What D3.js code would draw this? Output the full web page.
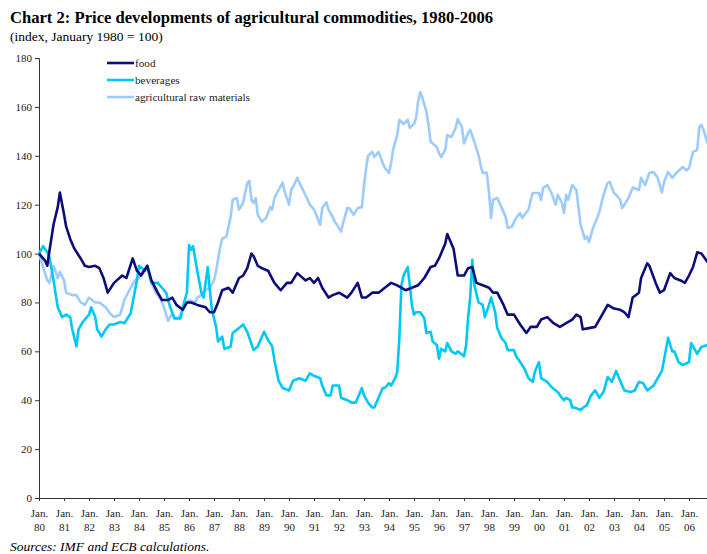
<!DOCTYPE html>
<html>
<head>
<meta charset="utf-8">
<script src="https://cdn.jsdelivr.net/npm/d3@7"></script>
<style>
  body { margin: 0; background: #fff; }
  svg { display: block; font-family: "Liberation Serif", "Times New Roman", serif; }
</style>
</head>
<body>
<script>
// values (index, Jan 1980 = 100)
const foodMonths = ["1980-01","1980-04","1980-05","1980-06","1980-08","1980-10","1980-11","1981-01","1981-02","1981-04","1981-06","1981-09","1981-11",
  "1982-01","1982-04","1982-06","1982-08","1982-10","1983-01","1983-05","1983-07","1983-10","1983-12","1984-02","1984-05","1984-07","1984-10","1984-12",
  "1985-03","1985-05","1985-07","1985-10","1985-12","1986-02","1986-05","1986-09","1986-11","1987-01","1987-03","1987-05","1987-08","1987-10",
  "1988-01","1988-03","1988-05","1988-07","1988-08","1988-10","1988-12","1989-03","1989-06","1989-09","1989-12","1990-02","1990-05","1990-09","1990-11",
  "1991-01","1991-03","1991-05","1991-08","1991-10","1992-01","1992-05","1992-07","1992-10","1992-12","1993-02","1993-05","1993-08","1993-11",
  "1994-02","1994-05","1994-09","1994-12","1995-03","1995-06","1995-09","1995-11","1996-01","1996-04","1996-05","1996-08","1996-10",
  "1997-01","1997-03","1997-05","1997-07","1997-10","1998-01","1998-03","1998-05","1998-08","1998-10","1999-01","1999-04","1999-07","1999-09","1999-12",
  "2000-02","2000-05","2000-08","2000-11","2001-02","2001-05","2001-07","2001-09","2001-10","2002-01","2002-04","2002-06","2002-09","2002-10",
  "2003-01","2003-04","2003-06","2003-08","2003-10","2004-01","2004-02","2004-05","2004-06","2004-09","2004-11","2005-01","2005-04","2005-06","2005-09","2005-11",
  "2006-01","2006-03","2006-05","2006-07","2006-10"];
const foodValues = [100,97,95,101,112,119,125,116,111,106,102,98,95,
  94.5,95,94,90,84,88,91,90,98,93,91,95,89,84,81,
  81,82,79,77,80,80,79,78,76,76,80,85,86,84,
  90,91,94,100,99,95,94,93,88,85,88,88,92,89,90,
  88,90,86,82,83,84,82,84,88,82,82,84,84,86,
  88,87,85,86,87,90,94.5,95,98,104,108,102,91,
  91,94,94.5,88,87,86,84,84,79,75,75,71,67.5,70,70,
  73,74,71.5,70,71.5,73,75,74,69,69.5,70,73,77.5,79,
  77.5,77,76,74,82,84,90,96,95,88,84,85,92,90,89,88,
  91,94.5,100.5,100,96.5];

const bevMonths = ["1980-01","1980-03","1980-05","1980-06","1980-08","1980-10","1980-12","1981-02","1981-04","1981-05","1981-07","1981-08","1981-10",
  "1982-01","1982-02","1982-04","1982-05","1982-07","1982-09","1982-11","1983-01","1983-04","1983-06","1983-09","1983-10","1983-12",
  "1984-01","1984-04","1984-05","1984-07","1984-10","1984-12","1985-02","1985-04","1985-06","1985-09","1985-10","1985-12",
  "1986-01","1986-02","1986-03","1986-05","1986-07","1986-08","1986-10","1986-11","1986-12","1987-02","1987-03","1987-05","1987-06","1987-09","1987-10",
  "1988-01","1988-03","1988-05","1988-08","1988-10","1989-01","1989-03","1989-05","1989-06","1989-08","1989-10","1990-01","1990-03","1990-06","1990-09","1990-11",
  "1991-01","1991-04","1991-05","1991-07","1991-09","1991-10","1992-01","1992-02","1992-05","1992-07","1992-09","1992-10","1992-12",
  "1993-01","1993-03","1993-05","1993-06","1993-08","1993-10","1993-11","1994-01","1994-02","1994-04","1994-05","1994-06","1994-07","1994-08","1994-10","1994-11","1994-12",
  "1995-01","1995-02","1995-04","1995-06","1995-07","1995-09","1995-10","1995-12","1996-01","1996-02","1996-04","1996-05","1996-07","1996-09","1996-10",
  "1997-01","1997-02","1997-03","1997-04","1997-05","1997-06","1997-08","1997-10","1997-11","1998-01","1998-02","1998-04","1998-05","1998-07","1998-09","1998-10",
  "1999-01","1999-02","1999-04","1999-06","1999-08","1999-10","1999-11","2000-01","2000-02","2000-05","2000-07","2000-10","2000-11",
  "2001-01","2001-02","2001-04","2001-05","2001-06","2001-09","2001-10","2001-12","2002-02","2002-04","2002-06","2002-08","2002-10","2002-12",
  "2003-02","2003-04","2003-06","2003-09","2003-11","2004-01","2004-03","2004-05","2004-08","2004-10","2004-12",
  "2005-01","2005-03","2005-05","2005-06","2005-08","2005-10","2006-01","2006-02","2006-04","2006-05","2006-07","2006-10"];
const bevValues = [100,103,100.5,98.5,89,78,74,75,74,69,62,69,72,
  75,78,74,69,66,69,71,71,72,71.5,75.5,80,89,
  95,93,95,88,88,86,84,78,73.5,73.5,78,84,
  103.5,101.5,103,93,84,82,94.5,85,77,70,64,66,61,62,67.5,
  69.5,71,68,60.5,62,68,64.6,62,56.5,48,45,44,48,49,48,51,
  50,49,46,42,42,46,46,41,40,39,39,41,45,
  42,39,37,37,41,45,45,47,46,49,51.5,65.5,87,91,94.5,87,79,
  75,76,76,73.5,67.5,68,64,62.6,57,61,60,63.4,60,59,60,
  58,62.6,73.6,82,97.4,87,80,79,74,79,82,76,69.5,65.5,63.4,60.5,
  60.5,58,55.6,53,49,47.5,51.5,55.6,49,47.5,45.4,43.4,42,
  40,41,40,37,37,36,36.8,38,42,44,41,43.4,49.5,47.5,
  52,48,44,43.4,44,47.5,47,44,46,49,52,
  56.5,65.5,60,60,55.6,54.4,55.6,63.4,60.5,59,61.8,62.6];

const rawMonths = ["1980-01","1980-03","1980-05","1980-06","1980-08","1980-10","1980-11","1981-01","1981-02","1981-05","1981-07","1981-09","1981-11",
  "1982-01","1982-04","1982-06","1982-09","1982-11","1983-01","1983-04","1983-06","1983-09","1983-11","1984-01","1984-03","1984-05","1984-07","1984-09","1984-11",
  "1985-01","1985-03","1985-05","1985-06","1985-08","1985-10","1985-11","1986-01","1986-04","1986-05","1986-07","1986-09","1986-11",
  "1987-01","1987-02","1987-04","1987-05","1987-07","1987-09","1987-10","1987-12","1988-01","1988-03","1988-05","1988-06","1988-07","1988-08","1988-09","1988-10","1988-12",
  "1989-02","1989-04","1989-05","1989-06","1989-08","1989-10","1989-11","1990-01","1990-02","1990-04","1990-05","1990-06","1990-08","1990-10","1990-11",
  "1991-01","1991-02","1991-04","1991-05","1991-07","1991-08","1991-10","1991-11","1992-01","1992-02","1992-03","1992-05","1992-06","1992-08","1992-10","1992-12",
  "1993-01","1993-02","1993-03","1993-05","1993-06","1993-08","1993-10","1993-11","1994-01","1994-02","1994-03","1994-05","1994-06","1994-08","1994-10","1994-11",
  "1995-01","1995-02","1995-03","1995-04","1995-05","1995-07","1995-08","1995-09","1995-10","1995-12","1996-01","1996-02","1996-04","1996-05","1996-07","1996-09","1996-10","1996-12",
  "1997-01","1997-03","1997-04","1997-06","1997-08","1997-09","1997-10","1997-12","1998-01","1998-02","1998-03","1998-05","1998-07","1998-09","1998-10","1998-12",
  "1999-02","1999-04","1999-05","1999-08","1999-10","2000-01","2000-02","2000-03","2000-05","2000-07","2000-09","2000-10","2000-12",
  "2001-01","2001-02","2001-03","2001-05","2001-07","2001-08","2001-09","2001-11","2001-12","2002-01","2002-03","2002-05","2002-06","2002-08","2002-10","2002-11",
  "2003-01","2003-02","2003-04","2003-05","2003-08","2003-10","2004-01","2004-02","2004-04","2004-06","2004-08","2004-10","2004-12",
  "2005-01","2005-03","2005-05","2005-07","2005-10","2005-12","2006-01","2006-03","2006-05","2006-06","2006-07","2006-08","2006-10"];
const rawValues = [100,94.5,89,88,95,90,92.5,89,84,83,83,80,79,
  82,80,80,78,75.6,74,75,81,86,89,90,93,94,88,84,82,
  78,72.5,75.6,73.6,73.6,77,79,81,80,82,83,85,86,
  89,93,102.7,106,107,115,122,122.7,118,120.7,129,129.7,122,120.7,122.7,115.8,113,
  114.6,119,118,122.7,126,129,125,120,126,129,131,129,125.5,122,120,
  118,116,111.7,118.6,121,118,115,113,110.5,109,112.5,118.6,118.6,115.8,118.6,119,
  128,135,140,141.6,139.5,141.6,137,135,133,137,142.4,148.5,154.7,153,154.7,151.4,
  153,155.5,162,166,164,158,152.6,145.7,145,143.6,141,139.5,142.4,148.5,147.7,151.4,155,151.8,
  145,149.3,150.6,145.7,140.3,136,133,133,125,114.6,122,122.7,119,115,110.5,111,
  114.6,116.6,114.6,118,124.8,124.8,122,126.8,128,124.8,120,124,120.7,
  116.6,124,122,128,126,118.6,111.7,106,107,104.7,110.5,114.6,117,124,129,129.3,
  124.8,124,122,118.6,122.7,127,126,131,128,133,133.4,131,125,
  129.3,133.4,131,133,135.4,134,135,141.6,142.4,151.8,152.6,150.6,145];

const yTicks = [0, 20, 40, 60, 80, 100, 120, 140, 160, 180];
const xTickYears = d3.range(1980, 2007);
const xTickLabels = ["80","81","82","83","84","85","86","87","88","89","90","91","92","93","94","95","96","97","98","99","00","01","02","03","04","05","06"];
const seriesNames = ["food", "beverages", "agricultural raw materials"];

const W = 707, H = 554;
const plot = { left: 39, top: 58, bottom: 498, right: 707 };
const colors = { food: "#0d0d7a", beverages: "#00c8f5", "agricultural raw materials": "#9dcbff" };

const parse = d3.timeParse("%Y-%m");
const svg = d3.select("body").append("svg").attr("width", W).attr("height", H);

// 25px per year, Jan 1980 on the y axis
let x = d3.scaleTime().domain([new Date(1980, 0, 1), new Date(2006, 0, 1)]).range([plot.left, 689]);
x = x.copy().domain([x.domain()[0], x.invert(plot.right)]).range([plot.left, plot.right]);
const y = d3.scaleLinear().domain([0, 180]).range([plot.bottom, plot.top]);

function toSeries(months, values) {
  return months.map((m, i) => ({ date: parse(m), value: values[i] }));
}
const data = {
  "food": toSeries(foodMonths, foodValues),
  "beverages": toSeries(bevMonths, bevValues),
  "agricultural raw materials": toSeries(rawMonths, rawValues)
};

// title
svg.append("text").attr("x", 10).attr("y", 23)
  .style("font-size", "16.6px").style("font-weight", "bold")
  .text("Chart 2: Price developments of agricultural commodities, 1980-2006");
svg.append("text").attr("x", 10).attr("y", 41)
  .style("font-size", "13.5px")
  .text("(index, January 1980 = 100)");

// y axis
const yAxis = svg.append("g").attr("transform", `translate(${plot.left},0)`)
  .call(d3.axisLeft(y).tickValues(yTicks).tickSize(4).tickPadding(3));
yAxis.selectAll("text").style("font-size", "11px").style("font-family", "Liberation Serif, serif").attr("fill", "#222");
yAxis.selectAll("line, path").attr("stroke", "#333");

// x axis
const xAxis = svg.append("g").attr("transform", `translate(0,${plot.bottom})`)
  .call(d3.axisBottom(x).tickValues(xTickYears.map(yr => new Date(yr, 0, 1))).tickSize(3).tickSizeOuter(0).tickFormat(""));
xAxis.selectAll("line, path").attr("stroke", "#333");
const lab = xAxis.selectAll(".tick").append("text")
  .attr("fill", "#222").style("font-size", "11px").style("font-family", "Liberation Serif, serif")
  .attr("text-anchor", "middle");
lab.append("tspan").attr("x", 0).attr("y", 19).text("Jan.");
lab.append("tspan").attr("x", 0).attr("y", 33).text((d, i) => xTickLabels[i]);

// lines
const line = d3.line().x(d => x(d.date)).y(d => y(d.value));
const drawOrder = ["agricultural raw materials", "beverages", "food"];
svg.append("g").selectAll("path").data(drawOrder).join("path")
  .attr("d", k => line(data[k]))
  .attr("fill", "none")
  .attr("stroke", k => colors[k])
  .attr("stroke-width", 2.6)
  .attr("stroke-linejoin", "round");

// legend
const lg = svg.append("g").selectAll("g").data(seriesNames).join("g")
  .attr("transform", (d, i) => `translate(107,${63 + i * 17})`);
lg.append("line").attr("x1", 0).attr("x2", 27)
  .attr("stroke", d => colors[d]).attr("stroke-width", 2.6);
lg.append("text").attr("x", 28).attr("y", 3.5)
  .style("font-size", "11.2px").attr("fill", "#222").text(d => d);

// source
svg.append("text").attr("x", 10).attr("y", 551)
  .style("font-size", "13.5px").style("font-style", "italic")
  .text("Sources: IMF and ECB calculations.");
</script>
</body>
</html>
